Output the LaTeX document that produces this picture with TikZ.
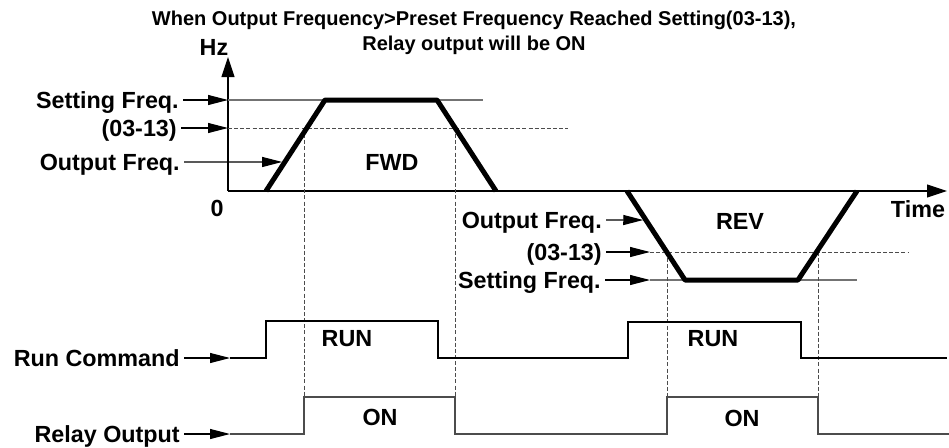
\documentclass[tikz,border=0pt]{standalone}
\usepackage{fontspec}
\setmainfont{Liberation Sans}
\usetikzlibrary{arrows.meta,calc}
\tikzset{
  lbl/.style={font=\fontsize{17.5}{20}\selectfont\bfseries, inner ysep=0pt, inner xsep=3pt, text height=12.5pt, text depth=0pt},
  ttl/.style={font=\fontsize{15}{18.75}\selectfont\bfseries, align=center, inner sep=0pt},
  ptr/.style={-{Triangle[length=15pt,width=7.5pt]}, line width=0.8pt},
  axis/.style={-{Triangle[length=15pt,width=9.75pt]}, line width=0.8pt},
  level/.style={black!55, line width=0.8pt},
  preset/.style={black!70, line width=0.7pt, dash pattern=on 3pt off 1.6pt},
  speed/.style={line width=3.75pt, line join=round},
  wave/.style={line width=0.9pt}
}
\begin{document}
\begin{tikzpicture}[x=0.75pt, y=-0.75pt]
    \useasboundingbox (0,0) rectangle (949,447);
    \node[ttl] (T) at (474,33) {When Output Frequency>Preset Frequency Reached Setting(03-13),\\Relay output will be ON};
    \coordinate (O) at (228,191);
    \coordinate (Hz) at (228,57);
    \coordinate (Tm) at (947,191);
    \coordinate (s0) at (228,100);
    \coordinate (s1) at (483,100);
    \coordinate (p0) at (228,128);
    \coordinate (p1) at (568,128);
    \coordinate (s2) at (650,280);
    \coordinate (s3) at (857,280);
    \coordinate (p2) at (650,252);
    \coordinate (p3) at (908,252);
    \coordinate (f0) at (266,191);
    \coordinate (f1) at (325,100);
    \coordinate (f2) at (437,100);
    \coordinate (f3) at (496,191);
    \coordinate (r0) at (627,191);
    \coordinate (r1) at (685,280);
    \coordinate (r2) at (798,280);
    \coordinate (r3) at (857,191);
    \coordinate (c1) at (304,128);
    \coordinate (c2) at (455,128);
    \coordinate (c3) at (667,252);
    \coordinate (c4) at (818,252);
    \coordinate (q1) at (304,397);
    \coordinate (q2) at (455,397);
    \coordinate (q3) at (667,397);
    \coordinate (q4) at (818,397);
    \coordinate (w0) at (230,358);
    \coordinate (v0) at (230,434);
    \node[lbl] (hzL) at (214,47) {Hz};
    \node[lbl] (zeroL) at (217,208) {0};
    \node[lbl] (timeL) at (918,209) {Time};
    \node[lbl] (fwdL) at (392,162) {FWD};
    \node[lbl] (revL) at (740,221) {REV};
    \node[lbl] (run1) at (347,338) {RUN};
    \node[lbl] (run2) at (713,338) {RUN};
    \node[lbl] (on1) at (380,417) {ON};
    \node[lbl] (on2) at (742,418) {ON};
    \node[lbl, anchor=east] (setA) at (183,100) {Setting Freq.};
    \node[lbl, anchor=east] (preA) at (181,128) {(03-13)};
    \node[lbl, anchor=east] (outA) at (184,162) {Output Freq.};
    \node[lbl, anchor=east] (outB) at (606,220) {Output Freq.};
    \node[lbl, anchor=east] (preB) at (606,252) {(03-13)};
    \node[lbl, anchor=east] (setB) at (605,280) {Setting Freq.};
    \node[lbl, anchor=east] (runL) at (184,358) {Run Command};
    \node[lbl, anchor=east] (relL) at (184,434) {Relay Output};
    \draw[axis] (O) -- (Hz);
    \draw[axis] (O) -- (Tm);
    \draw[level] (s0) -- (s1);
    \draw[preset] (p0) -- (p1);
    \draw[level] (s2) -- (s3);
    \draw[preset] (p2) -- (p3);
    \draw[preset] (c1) -- (q1);
    \draw[preset] (c2) -- (q2);
    \draw[preset] (c3) -- (q3);
    \draw[preset] (c4) -- (q4);
    \draw[speed] (f0) -- (f1) -- (f2) -- (f3);
    \draw[speed] (r0) -- (r1) -- (r2) -- (r3);
    \draw[ptr] (setA.east) -- (s0);
    \draw[ptr] (preA.east) -- (p0);
    \draw[ptr, shorten >=2pt] (outA.east) -- ($(f0)!0.319!(f1)$);
    \draw[ptr, shorten >=2pt] (outB.east) -- ($(r0)!0.326!(r1)$);
    \draw[ptr] (preB.east) -- (p2);
    \draw[ptr] (setB.east) -- (s2);
    \draw[ptr] (runL.east) -- (w0);
    \draw[ptr] (relL.east) -- (v0);
    \draw[wave] (w0) -- (266,358) -- (266,321) -- (438,321) -- (438,358) -- (628,358) -- (628,322) -- (801,322) -- (801,358) -- (947,358);
    \draw[wave, black!70] (v0) -- (304,434) -- (q1) -- (q2) -- (455,434) -- (667,434) -- (q3) -- (q4) -- (818,434) -- (949,434);
\end{tikzpicture}
\end{document}
